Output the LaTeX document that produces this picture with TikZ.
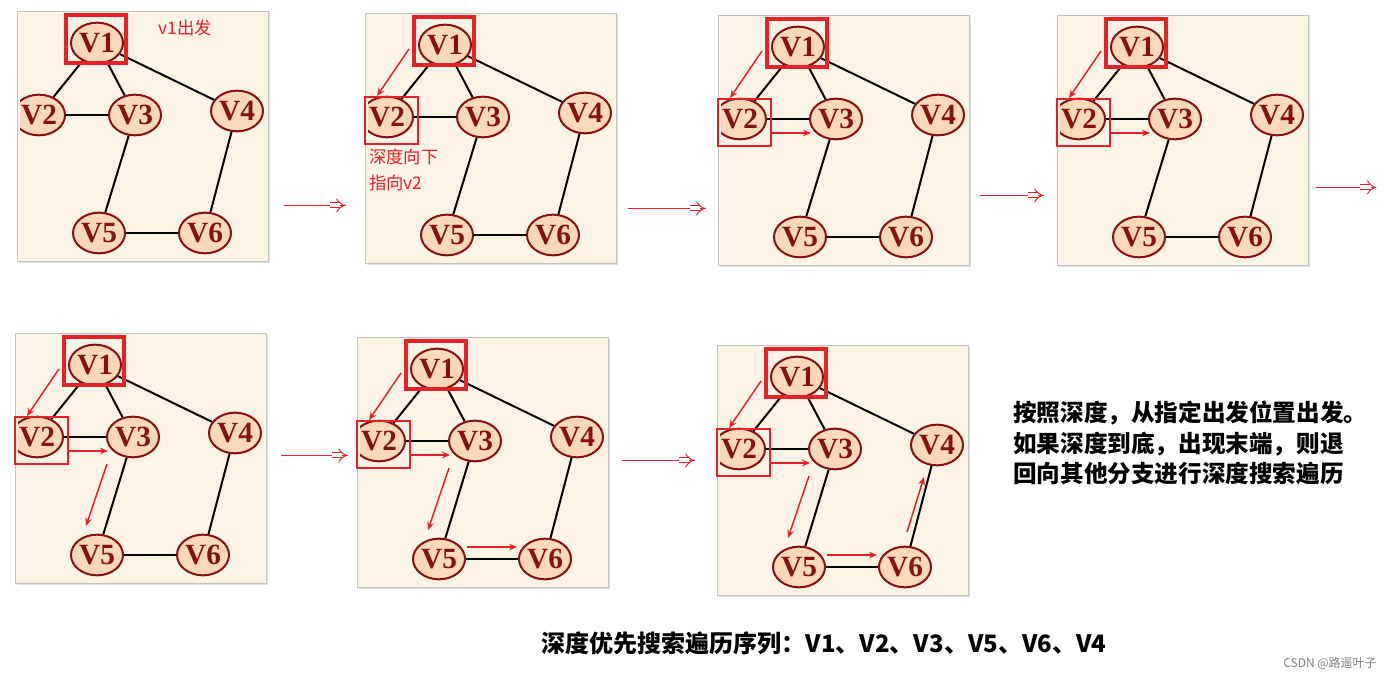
\documentclass[tikz,border=0pt]{standalone}
\usepackage{fontspec}
\usepackage{xcolor}
\usetikzlibrary{calc,positioning,shadows,arrows.meta,shapes.geometric}
\newfontfamily\vfont{Liberation Serif}
\newfontfamily\cjk{Noto Sans CJK SC}
\definecolor{paper}{RGB}{251,243,228}
\definecolor{peach}{RGB}{249,217,186}
\definecolor{maroon}{RGB}{133,18,18}
\definecolor{markred}{RGB}{228,32,40}
\definecolor{frame}{RGB}{195,195,195}

% one graph panel: #1 name, #2 #3 top left corner (px)
\newcommand{\dfspanel}[3]{%
  \begin{scope}[shift={(#2,#3)}]
    \node[panel] (#1) at (125.5,125) {};
    \begin{scope}
      \clip (3,1) rectangle (250,249);
      \node[vertex] (#1v1) at (80,32) {V1};
      \node[vertex] (#1v2) at (22,104) {V2};
      \node[vertex] (#1v3) at (118,104) {V3};
      \node[vertex] (#1v4) at (220,100) {V4};
      \node[vertex] (#1v5) at (82,222) {V5};
      \node[vertex] (#1v6) at (188,222) {V6};
      \draw[edge] (#1v1) -- (#1v2);
      \draw[edge] (#1v1) -- (#1v3);
      \draw[edge] (#1v1) -- (#1v4);
      \draw[edge] (#1v2) -- (#1v3);
      \draw[edge] (#1v3) -- (#1v5);
      \draw[edge] (#1v4) -- (#1v6);
      \draw[edge] (#1v5) -- (#1v6);
    \end{scope}
  \end{scope}}

% arrow between panels
\newcommand{\passarrow}[2]{%
  \draw[passline] (#1) -- (#2);
  \draw[passhead] ($(#2)+(-16,0)$) -- (#2);}

\begin{document}
\begin{tikzpicture}[x=0.75pt, y=-0.75pt]
    % Styles
    \tikzstyle{panel} = [rectangle, draw=frame, fill=paper, line width=0.6pt, minimum width=188.25pt, minimum height=187.5pt, drop shadow={shadow xshift=1.2pt, shadow yshift=-1.2pt, opacity=0.25}]
    \tikzstyle{vertex} = [ellipse, draw=maroon, fill=peach, line width=1.5pt, inner sep=0pt, minimum width=39pt, minimum height=30.5pt, text=maroon, font=\vfont\bfseries\fontsize{22}{22}\selectfont]
    \tikzstyle{edge} = [black, line width=1.5pt]
    \tikzstyle{firstmark} = [rectangle, draw=markred, line width=2.3pt, minimum width=45pt, minimum height=36pt]
    \tikzstyle{nextmark} = [rectangle, draw=markred, line width=1.5pt, minimum width=39.75pt, minimum height=35.25pt]
    \tikzstyle{trail} = [markred, line width=1.1pt, -{Stealth[length=6pt, width=5pt]}]
    \tikzstyle{note} = [text=markred, font=\cjk\fontsize{13}{19.5}\selectfont, inner sep=0pt, align=left]
    \tikzstyle{passline} = [markred, line width=0.6pt]
    \tikzstyle{passhead} = [markred, line width=0.7pt, double=white, double distance=3pt, -{Implies}]
    \tikzstyle{bigtext} = [font=\cjk\bfseries\fontsize{17.7}{23}\selectfont, align=left, inner sep=0pt]

    \useasboundingbox[fill=white] (0,0) rectangle (1400,680);

  % Panels
    \dfspanel{p1}{17}{11}
    \dfspanel{p2}{365}{13}
    \dfspanel{p3}{718}{15}
    \dfspanel{p4}{1057}{15}
    \dfspanel{p5}{15}{333}
    \dfspanel{p6}{357}{337}
    \dfspanel{p7}{717}{345}

  % Visited marks
    \foreach \p in {p1,p2,p3,p4,p5,p6,p7}
      \node[firstmark] (\p m1) at ([shift={(-1,-4)}]\p v1.center) {};
    \foreach \p in {p2,p3,p4,p5,p6,p7}
      \node[nextmark] (\p m2) at ([shift={(4.5,3.5)}]\p v2.center) {};

  % Search steps
    \foreach \p in {p2,p3,p4,p5,p6,p7}
      \draw[trail] ([shift={(-36,4)}]\p v1.center) -- ([shift={(-10,-21)}]\p v2.center);
    \foreach \p in {p3,p4,p5,p6,p7}
      \draw[trail] ([shift={(31,14)}]\p v2.center) -- ([shift={(-25,14)}]\p v3.center);
    \foreach \p in {p5,p6,p7}
      \draw[trail] ([shift={(-26,27)}]\p v3.center) -- ([shift={(-11,-29)}]\p v5.center);
    \foreach \p in {p6,p7}
      \draw[trail] ([shift={(28,-12)}]\p v5.center) -- ([shift={(-28,-12)}]\p v6.center);
    \draw[trail] ([shift={(2,-35)}]p7v6.center) -- ([shift={(-13,32)}]p7v4.center);

  % Notes
    \node[note, right=23pt of p1m1, yshift=8pt] (start) {v1出发};
    \node[note, anchor=north west] (down) at ([shift={(5,4)}]p2m2.south west) {深度向下\\指向v2};

  % Arrows between panels
    \coordinate (s1) at ([shift={(16,-56)}]p1.south east);
    \path (s1 -| p2.west) ++(-19,0) coordinate (e1);
    \coordinate (s2) at ([shift={(12,-55)}]p2.south east);
    \path (s2 -| p3.west) ++(-12,0) coordinate (e2);
    \coordinate (s3) at ([shift={(11,-70)}]p3.south east);
    \path (s3 -| p4.west) ++(-13,0) coordinate (e3);
    \coordinate (s4) at ([shift={(8,-78)}]p4.south east);
    \path (s4) ++(60,0) coordinate (e4);
    \coordinate (s5) at ([shift={(15,-128)}]p5.south east);
    \path (s5 -| p6.west) ++(-9,0) coordinate (e5);
    \coordinate (s6) at ([shift={(14,-127)}]p6.south east);
    \path (s6 -| p7.west) ++(-22,0) coordinate (e6);
    \passarrow{s1}{e1}
    \passarrow{s2}{e2}
    \passarrow{s3}{e3}
    \passarrow{s4}{e4}
    \passarrow{s5}{e5}
    \passarrow{s6}{e6}

  % Texts
    \node[bigtext, anchor=west] (rule) at (1013,443) {按照深度，从指定出发位置出发。\\如果深度到底，出现末端，则退\\回向其他分支进行深度搜索遍历};
    \node[font=\cjk\bfseries\fontsize{18}{18}\selectfont, inner sep=0pt] (order) at (824,643) {深度优先搜索遍历序列：V1、V2、V3、V5、V6、V4};
    \node[font=\cjk\fontsize{9}{9}\selectfont, text=gray, inner sep=0pt] (mark) at (1330,663) {CSDN @路遥叶子};

\end{tikzpicture}
\end{document}
